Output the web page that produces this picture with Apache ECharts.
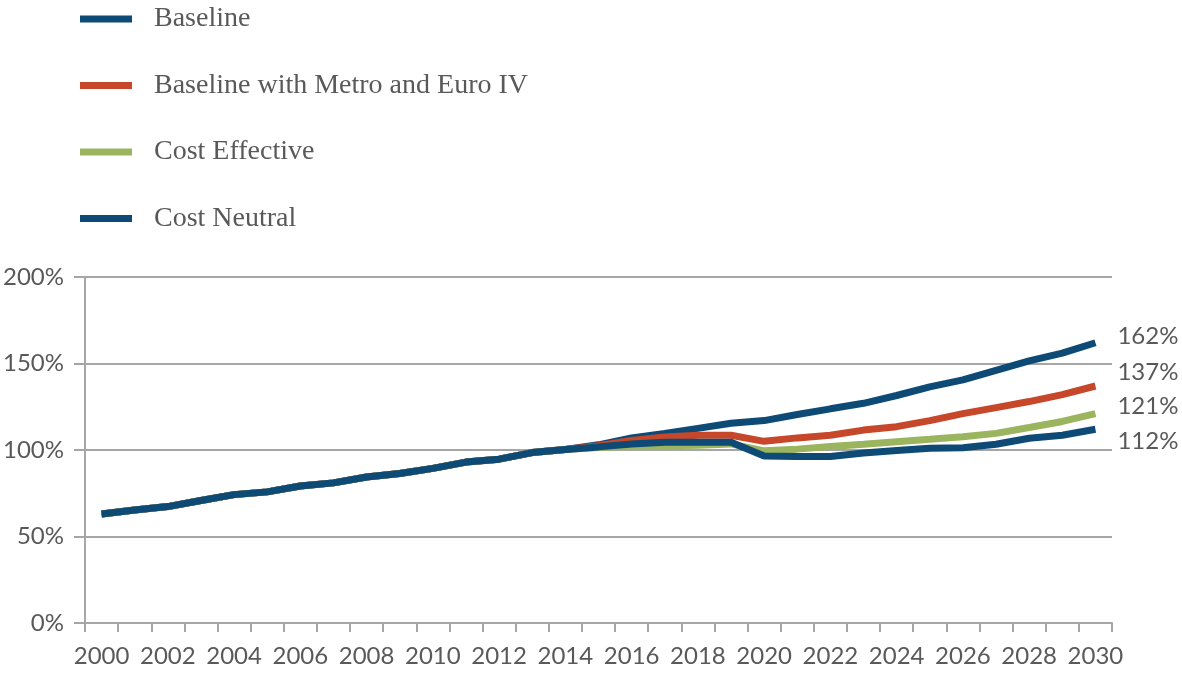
<!DOCTYPE html>
<html>
<head>
<meta charset="utf-8">
<script src="https://cdn.jsdelivr.net/npm/echarts@6/dist/echarts.min.js"></script>
<style>
  html, body { margin: 0; padding: 0; background: #fff; }
  #chart { width: 1182px; height: 673px; }
</style>
</head>
<body>
<div id="chart"></div>
<script>
// Years 2000-2030
const years = [];
for (let y = 2000; y <= 2030; y++) years.push(String(y));

// Shared history 2000-2014 (all scenarios identical)
const history = [63, 65.3, 67.3, 70.8, 74.2, 75.8, 79.2, 81, 84.4, 86.4, 89.4, 93, 94.7, 98.5, 100.3];

// Projections 2015-2030
const baselineProj   = [103, 107, 109.5, 112.5, 115.5, 117, 120.5, 123.8, 127, 131.5, 136.5, 140.5, 146, 151.5, 156, 162];
const metroProj      = [102.5, 105.5, 107.5, 108.5, 108.5, 105, 107, 108.5, 111.5, 113.5, 117, 121, 124.5, 128, 132, 137];
const effectiveProj  = [101.5, 102, 102.5, 102.7, 103.5, 99.5, 100.5, 102, 103.3, 104.8, 106.2, 107.7, 109.6, 113, 116.5, 121];
const neutralProj    = [101.8, 103.5, 104.5, 104.5, 104.5, 96.5, 96.3, 96.3, 98.3, 99.7, 101, 101.3, 103.3, 106.8, 108.5, 112];

const seriesNames = ['Baseline', 'Baseline with Metro and Euro IV', 'Cost Effective', 'Cost Neutral'];
const yTicks = [0, 50, 100, 150, 200];

const colors = ['#0d4a75', '#c6472a', '#9bb45e', '#0d4a75'];
const endOffsets = [[0, -6], [0, -14], [0, -7], [0, 12]];
const dataSets = [baselineProj, metroProj, effectiveProj, neutralProj].map(p => history.concat(p));

const gray = '#a6a6a6';
const txt = '#595959';
const sansFont = 'Lato, "Open Sans", sans-serif';
const serifFont = '"Liberation Serif", "DejaVu Serif", serif';

const chart = echarts.init(document.getElementById('chart'));
chart.setOption({
  animation: false,
  backgroundColor: '#fff',
  color: colors,
  legend: {
    orient: 'vertical',
    left: 75,
    top: 0,
    icon: 'rect',
    itemWidth: 52,
    itemHeight: 7,
    itemGap: 38.5,
    data: seriesNames,
    textStyle: { fontFamily: serifFont, fontSize: 28, color: txt, padding: [0, 0, 0, 17] }
  },
  grid: { left: 84, right: 70, top: 277, bottom: 50, containLabel: false },
  xAxis: {
    type: 'category',
    data: years,
    boundaryGap: true,
    axisLine: { lineStyle: { color: gray, width: 2 } },
    axisTick: { show: true, length: 9, interval: 0, lineStyle: { color: gray, width: 2 } },
    axisLabel: { interval: 1, fontFamily: sansFont, fontSize: 24, color: txt, margin: 21 },
    splitLine: { show: false }
  },
  yAxis: {
    type: 'value',
    min: yTicks[0],
    max: yTicks[yTicks.length - 1],
    interval: 50,
    axisLine: { show: true, lineStyle: { color: gray, width: 2 } },
    axisTick: { show: true, length: 11, lineStyle: { color: gray, width: 2 } },
    axisLabel: { formatter: '{value}%', fontFamily: sansFont, fontSize: 24, color: txt, margin: 21 },
    splitLine: { show: true, lineStyle: { color: gray, width: 2 } }
  },
  series: seriesNames.map((name, i) => ({
    name: name,
    type: 'line',
    data: dataSets[i],
    symbol: 'none',
    smooth: false,
    lineStyle: { width: 7, color: colors[i], cap: 'butt' },
    itemStyle: { color: colors[i] },
    z: 2 + i,
    endLabel: {
      show: true,
      formatter: p => Math.round(p.value) + '%',
      fontFamily: sansFont,
      fontSize: 24,
      color: txt,
      distance: 22,
      offset: endOffsets[i]
    }
  }))
});
</script>
</body>
</html>
